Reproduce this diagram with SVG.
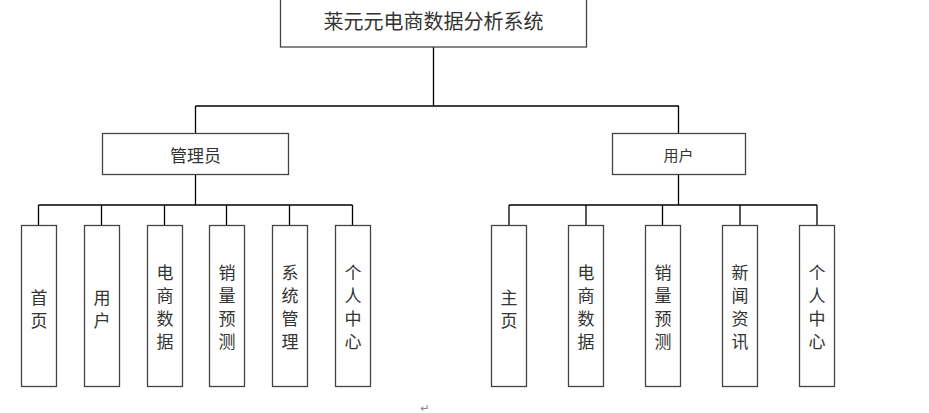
<svg xmlns="http://www.w3.org/2000/svg" width="929" height="413" viewBox="0 0 929 413">
<style>
.b{fill:#fff;stroke:#444;stroke-width:1.3}
.t{font-family:"Noto Sans CJK SC",sans-serif;fill:#333;text-anchor:middle;dominant-baseline:central}
.s{font-size:17px}
.c{stroke:#000;stroke-width:1.3;fill:none}
</style>
<rect width="929" height="413" fill="#fff"/>
<g id="connectors">
<path class="c" d="M433.5 47V106M195.5 106H679M195.5 106V133M678.5 106V133"/>
<path class="c" d="M195.5 174V205M38.5 205H352.5M38.5 205V225M101.5 205V225M164.5 205V225M226.5 205V225M289.5 205V225M352.5 205V225"/>
<path class="c" d="M678.5 174V205M509 205H817M509 205V225M586 205V225M662.5 205V225M740 205V225M817 205V225"/>
</g>
<g id="root"><rect class="b" x="280.5" y="-1" width="306" height="48"/><text class="t" x="433.5" y="20" font-size="20">莱元元电商数据分析系统</text></g>
<g id="admin"><rect class="b" x="102.5" y="133.5" width="186" height="41"/><text class="t s" x="195.5" y="154" font-size="15">管理员</text></g>
<g id="user"><rect class="b" x="612.5" y="133.5" width="133" height="41"/><text class="t" x="678.5" y="154" font-size="15">用户</text></g>
<g id="a1"><rect class="b" x="21.5" y="225.5" width="35" height="161"/><text class="t s" x="39"><tspan x="39" y="296">首</tspan><tspan x="39" y="319">页</tspan></text></g>
<g id="a2"><rect class="b" x="84.5" y="225.5" width="35" height="161"/><text class="t s"><tspan x="102" y="296">用</tspan><tspan x="102" y="319">户</tspan></text></g>
<g id="a3"><rect class="b" x="147.5" y="225.5" width="35" height="161"/><text class="t s"><tspan x="165" y="271">电</tspan><tspan x="165" y="294">商</tspan><tspan x="165" y="317">数</tspan><tspan x="165" y="340">据</tspan></text></g>
<g id="a4"><rect class="b" x="209.5" y="225.5" width="35" height="161"/><text class="t s"><tspan x="227" y="271">销</tspan><tspan x="227" y="294">量</tspan><tspan x="227" y="317">预</tspan><tspan x="227" y="340">测</tspan></text></g>
<g id="a5"><rect class="b" x="272.5" y="225.5" width="35" height="161"/><text class="t s"><tspan x="290" y="271">系</tspan><tspan x="290" y="294">统</tspan><tspan x="290" y="317">管</tspan><tspan x="290" y="340">理</tspan></text></g>
<g id="a6"><rect class="b" x="335.5" y="225.5" width="35" height="161"/><text class="t s"><tspan x="353" y="271">个</tspan><tspan x="353" y="294">人</tspan><tspan x="353" y="317">中</tspan><tspan x="353" y="340">心</tspan></text></g>
<g id="u1"><rect class="b" x="491.5" y="225.5" width="35" height="161"/><text class="t s"><tspan x="509" y="296">主</tspan><tspan x="509" y="319">页</tspan></text></g>
<g id="u2"><rect class="b" x="568.5" y="225.5" width="35" height="161"/><text class="t s"><tspan x="586" y="271">电</tspan><tspan x="586" y="294">商</tspan><tspan x="586" y="317">数</tspan><tspan x="586" y="340">据</tspan></text></g>
<g id="u3"><rect class="b" x="645.5" y="225.5" width="35" height="161"/><text class="t s"><tspan x="663" y="271">销</tspan><tspan x="663" y="294">量</tspan><tspan x="663" y="317">预</tspan><tspan x="663" y="340">测</tspan></text></g>
<g id="u4"><rect class="b" x="722.5" y="225.5" width="35" height="161"/><text class="t s"><tspan x="740" y="271">新</tspan><tspan x="740" y="294">闻</tspan><tspan x="740" y="317">资</tspan><tspan x="740" y="340">讯</tspan></text></g>
<g id="u5"><rect class="b" x="799.5" y="225.5" width="35" height="161"/><text class="t s"><tspan x="817" y="271">个</tspan><tspan x="817" y="294">人</tspan><tspan x="817" y="317">中</tspan><tspan x="817" y="340">心</tspan></text></g>
<text x="425" y="408" font-family="DejaVu Sans,sans-serif" font-size="11" fill="#888" text-anchor="middle" dominant-baseline="central">↵</text>
</svg>
